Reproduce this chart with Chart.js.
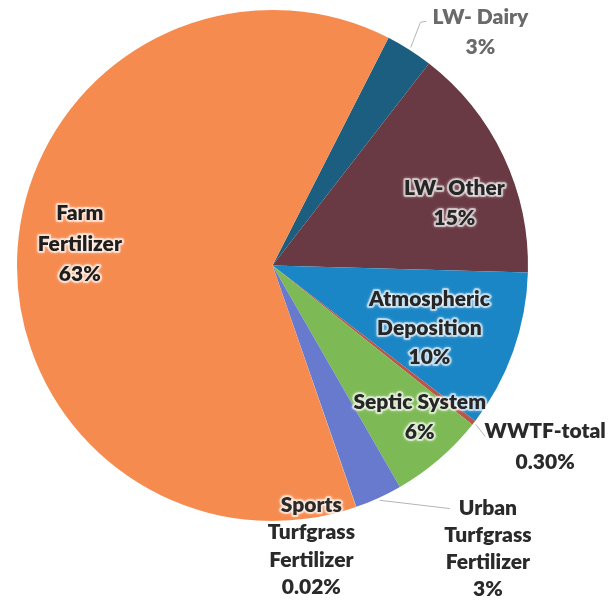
<!DOCTYPE html>
<html>
<head>
<meta charset="utf-8">
<script src="https://cdn.jsdelivr.net/npm/chart.js@4/dist/chart.umd.min.js"></script>
<style>
  html, body { margin: 0; padding: 0; background: #ffffff; }
  #wrap { width: 608px; height: 600px; position: relative; }
</style>
</head>
<body>
<div id="wrap"><canvas id="c"></canvas></div>
<script>
// ---- Data (clockwise from the LW- Dairy slice) ----
const categories = ["LW- Dairy", "LW- Other", "Atmospheric Deposition", "WWTF-total", "Septic System", "Urban Turfgrass Fertilizer", "Sports Turfgrass Fertilizer", "Farm Fertilizer"];
const values = [3, 15, 10, 0.30, 6, 3, 0.02, 63];
const valueLabels = ["3%", "15%", "10%", "0.30%", "6%", "3%", "0.02%", "63%"];
const labelLines = [
  ["LW- Dairy"],
  ["LW- Other"],
  ["Atmospheric", "Deposition"],
  ["WWTF-total"],
  ["Septic System"],
  ["Urban", "Turfgrass", "Fertilizer"],
  ["Sports", "Turfgrass", "Fertilizer"],
  ["Farm", "Fertilizer"]
];

// ---- Styles ----
const sliceColors = ["#1C5E80", "#6A3A44", "#1B86C6", "#B8564A", "#7DBA56", "#687ACE", "#A5A5A5", "#F68B50"];
// radial factor f (of outer radius) at slice mid-angle, plus fine offsets; halo for inside labels
const labelStyle = [
  { f: 1.22, dx: 41, dy: 30, color: "#6a6a6a", halo: false, lh: 30, leader: [[-60, -10], [-54, -11]] },
  { f: 0.753, dx: 8, dy: 20, color: "#262626", halo: true, lh: 30 },
  { f: 0.66, dx: -2, dy: 6, color: "#262626", halo: true, lh: 29 },
  { f: 1.29, dx: 13, dy: -22, color: "#2a2a2a", halo: false, lh: 31, leader: [[-60, -10]] },
  { f: 0.83, dx: 9, dy: -9, color: "#262626", halo: true, lh: 30 },
  { f: 1.39, dx: 68, dy: -40, color: "#2a2a2a", halo: false, lh: 27, leader: [[-38, -40]] },
  { f: 1.11, dx: -54, dy: 13, color: "#2a2a2a", halo: true, lh: 27.5 },
  { f: 0.76, dx: 1, dy: -8, color: "#1e1e1e", halo: true, lh: 30.5 }
];
const FONT = "800 21px Lato";

const labelPlugin = {
  id: "sliceLabels",
  afterDatasetsDraw(chart) {
    const ctx = chart.ctx;
    const meta = chart.getDatasetMeta(0);
    meta.data.forEach((arc, i) => {
      const st = labelStyle[i];
      const mid = (arc.startAngle + arc.endAngle) / 2;
      const R = arc.outerRadius;
      const ax = arc.x + Math.cos(mid) * R * st.f + st.dx;
      const ay = arc.y + Math.sin(mid) * R * st.f + st.dy;
      const lines = labelLines[i].concat([valueLabels[i]]);
      ctx.save();
      if (st.leader) {
        ctx.strokeStyle = "#b5b5b5";
        ctx.lineWidth = 1;
        ctx.beginPath();
        ctx.moveTo(arc.x + Math.cos(mid) * R * 1.01, arc.y + Math.sin(mid) * R * 1.01);
        st.leader.forEach(p => ctx.lineTo(ax + p[0], ay + p[1]));
        ctx.stroke();
      }
      ctx.font = FONT;
      ctx.textAlign = "center";
      ctx.textBaseline = "middle";
      const top = ay - (lines.length - 1) * st.lh / 2;
      lines.forEach((t, k) => {
        const y = top + k * st.lh;
        if (st.halo) {
          ctx.save();
          ctx.lineJoin = "round";
          ctx.strokeStyle = "rgba(255,255,255,0.55)";
          ctx.lineWidth = 4;
          ctx.shadowColor = "rgba(255,255,255,0.8)";
          ctx.shadowBlur = 3;
          ctx.strokeText(t, ax, y);
          ctx.restore();
        }
        ctx.fillStyle = st.color;
        ctx.fillText(t, ax, y);
      });
      ctx.restore();
    });
  }
};

new Chart(document.getElementById("c"), {
  type: "pie",
  data: {
    labels: categories,
    datasets: [{
      data: values,
      backgroundColor: sliceColors,
      borderWidth: 0
    }]
  },
  options: {
    responsive: true,
    maintainAspectRatio: false,
    animation: false,
    rotation: 27,
    layout: { padding: { left: 17, right: 80, top: 10, bottom: 79 } },
    plugins: {
      legend: { display: false },
      tooltip: { enabled: false }
    }
  },
  plugins: [labelPlugin]
});
</script>
</body>
</html>
